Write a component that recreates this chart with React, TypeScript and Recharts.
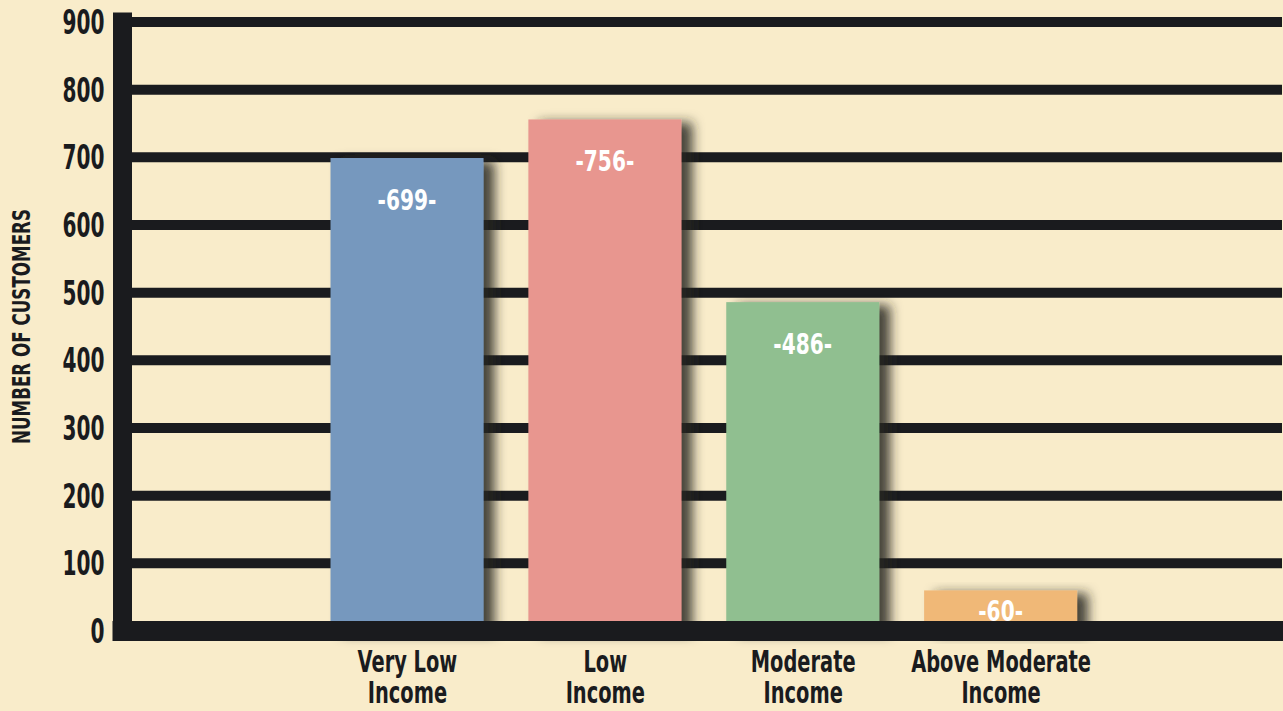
import React from "react";
import { BarChart, Bar, XAxis, YAxis, CartesianGrid, LabelList } from "recharts";

const categories = ["Very Low Income", "Low Income", "Moderate Income", "Above Moderate Income"];
const customers = [699, 756, 486, 60];
const yTicks = [0, 100, 200, 300, 400, 500, 600, 700, 800, 900];
const yTitle = "NUMBER OF CUSTOMERS";

const palette = ["#7698BE", "#E8968F", "#90BF90", "#F0B877"];
const INK = "#1A1B1E";
const BG = "#F9ECCA";
const FONT = "'DejaVu Sans Condensed', 'DejaVu Sans', sans-serif";

const data = categories.map((c, i) => ({ category: c, customers: customers[i], idx: i }));

const splitLabel = (s: string): string[] => {
  const k = s.lastIndexOf(" ");
  return k < 0 ? [s] : [s.slice(0, k), s.slice(k + 1)];
};

const YTick = (props: any) => {
  const { x, y, payload } = props;
  const label = String(payload.value);
  return (
    <text
      x={x - 18}
      y={y}
      textAnchor="end"
      dominantBaseline="central"
      fontFamily={FONT}
      fontWeight="bold"
      fontSize={34}
      fill={INK}
      textLength={label.length * 14}
      lengthAdjust="spacingAndGlyphs"
    >
      {label}
    </text>
  );
};

const XTick = (props: any) => {
  const { x, y, payload } = props;
  const lines = splitLabel(String(payload.value));
  return (
    <g transform={`translate(${x},${y})`}>
      {lines.map((ln, i) => (
        <text
          key={i}
          x={0}
          y={0}
          transform={`translate(0,${41 + i * 31}) scale(0.72,1)`}
          textAnchor="middle"
          fontFamily={FONT}
          fontWeight="bold"
          fontSize={30}
          fill={INK}
        >
          {ln}
        </text>
      ))}
    </g>
  );
};

const BarShape = (props: any) => {
  const { x, y, width, height, payload } = props;
  return (
    <rect
      x={x}
      y={y}
      width={width}
      height={height}
      fill={palette[payload.idx % palette.length]}
      filter="url(#barShadow)"
    />
  );
};

const BarLabel = (props: any) => {
  const { x, y, width, height, value } = props;
  const cy = y + Math.min(42, height / 2);
  return (
    <text
      x={0}
      y={0}
      transform={`translate(${x + width / 2},${cy}) scale(0.8,1)`}
      textAnchor="middle"
      dominantBaseline="central"
      fontFamily={FONT}
      fontWeight="bold"
      fontSize={28}
      fill="#FFFFFF"
    >
      {`-${value}-`}
    </text>
  );
};

const YTitle = (props: any) => {
  const vb = props.viewBox || { x: 0, y: 0, width: 0, height: 0 };
  const cx = 21;
  const cy = vb.y + vb.height / 2;
  return (
    <text
      x={cx}
      y={cy}
      transform={`rotate(-90, ${cx}, ${cy})`}
      textAnchor="middle"
      dominantBaseline="central"
      fontFamily={FONT}
      fontWeight="bold"
      fontSize={25}
      fill={INK}
      textLength={235}
      lengthAdjust="spacingAndGlyphs"
    >
      {yTitle}
    </text>
  );
};

export default function App() {
  return (
    <div style={{ position: "absolute", left: 0, top: 0, width: 1283, height: 711, background: BG, overflow: "hidden" }}>
      <svg width={0} height={0} style={{ position: "absolute" }}>
        <defs>
          <filter id="barShadow" x="-20%" y="-20%" width="150%" height="150%">
            <feDropShadow dx={11} dy={3} stdDeviation={6} floodColor="#27251a" floodOpacity={0.85} />
          </filter>
        </defs>
      </svg>
      <BarChart
        width={1283}
        height={711}
        data={data}
        margin={{ top: 22, right: 1, left: 0, bottom: 0 }}
      >
        <CartesianGrid horizontal vertical={false} stroke={INK} strokeWidth={10} strokeOpacity={1} />
        <Bar dataKey="customers" barSize={153} isAnimationActive={false} shape={<BarShape />}>
          <LabelList dataKey="customers" content={<BarLabel />} />
        </Bar>
        <XAxis
          dataKey="category"
          height={80}
          padding={{ left: 186, right: 182 }}
          axisLine={{ stroke: INK, strokeWidth: 20, strokeLinecap: "square" }}
          tickLine={false}
          tickSize={0}
          tickMargin={0}
          tick={<XTick />}
          interval={0}
        />
        <YAxis
          width={122.5}
          domain={[0, 900]}
          ticks={yTicks}
          interval={0}
          axisLine={{ stroke: INK, strokeWidth: 19, strokeLinecap: "square" }}
          tickLine={false}
          tickSize={0}
          tickMargin={0}
          tick={<YTick />}
          label={{ content: <YTitle /> }}
        />
        <YAxis
          yAxisId="right"
          orientation="right"
          width={0}
          domain={[0, 900]}
          axisLine={{ stroke: INK, strokeWidth: 2 }}
          tick={false}
          tickLine={false}
        />
      </BarChart>
    </div>
  );
}
